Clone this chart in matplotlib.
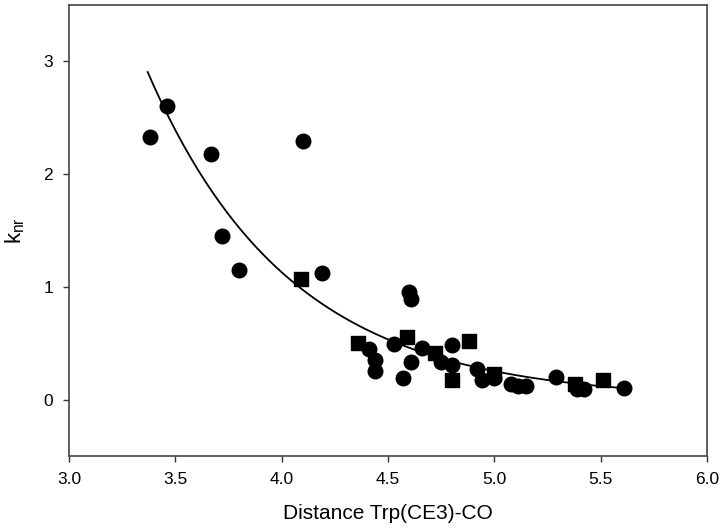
import numpy as np
import matplotlib
matplotlib.use("Agg")
import matplotlib.pyplot as plt

plt.rcParams['font.family'] = ['Liberation Sans', 'DejaVu Sans']
plt.rcParams['mathtext.fontset'] = 'custom'
plt.rcParams['mathtext.rm'] = 'Liberation Sans'
plt.rcParams['mathtext.it'] = 'Liberation Sans'

# circles
circ_x = [3.38, 3.46, 3.67, 3.72, 3.80, 4.10, 4.19, 4.41, 4.44, 4.44, 4.53, 4.57,
          4.60, 4.61, 4.61, 4.66, 4.75, 4.80, 4.80, 4.92, 4.94, 5.00, 5.08, 5.11,
          5.15, 5.29, 5.39, 5.42, 5.61]
circ_y = [2.33, 2.60, 2.18, 1.45, 1.15, 2.29, 1.12, 0.45, 0.35, 0.25, 0.49, 0.19,
          0.95, 0.89, 0.33, 0.46, 0.33, 0.48, 0.31, 0.27, 0.17, 0.19, 0.14, 0.12,
          0.12, 0.20, 0.09, 0.09, 0.10]

# squares
sq_x = [4.09, 4.36, 4.59, 4.72, 4.80, 4.88, 5.00, 5.38, 5.51]
sq_y = [1.07, 0.50, 0.55, 0.41, 0.17, 0.52, 0.23, 0.14, 0.17]

# exponential fit: y = a*exp(-b*x)
fit_a = 455.0
fit_b = 1.5
fit_range = (3.37, 5.61)

fig = plt.figure(figsize=(7.2, 5.28), dpi=100)
ax = fig.add_axes([0.0958, 0.1364, 0.8862, 0.855])

xs = np.linspace(fit_range[0], fit_range[1], 200)
ax.plot(xs, fit_a * np.exp(-fit_b * xs), color='black', lw=1.3)
ax.scatter(circ_x, circ_y, s=110, marker='o', color='black', zorder=3)
ax.scatter(sq_x, sq_y, s=95, marker='s', color='black', zorder=3)

ax.set_xlim(3.0, 6.0)
ax.set_ylim(-0.5, 3.5)
ax.set_xticks([3.0, 3.5, 4.0, 4.5, 5.0, 5.5, 6.0])
ax.set_xticklabels(['3.0', '3.5', '4.0', '4.5', '5.0', '5.5', '6.0'])
ax.set_yticks([0, 1, 2, 3])
ax.tick_params(direction='out', length=4.5, width=1, labelsize=12.5, color='#333333',
               labelcolor='black', top=False, right=False)
ax.tick_params(axis='x', pad=7)
ax.tick_params(axis='y', pad=7)
for sp in ax.spines.values():
    sp.set_color('#444444')
    sp.set_linewidth(1.2)

ax.set_xlabel('Distance Trp(CE3)-CO', fontsize=15, labelpad=12)
ax.set_ylabel(r'$\mathrm{k_{nr}}$', fontsize=16, labelpad=12)

fig.savefig('out.png', dpi=100)
